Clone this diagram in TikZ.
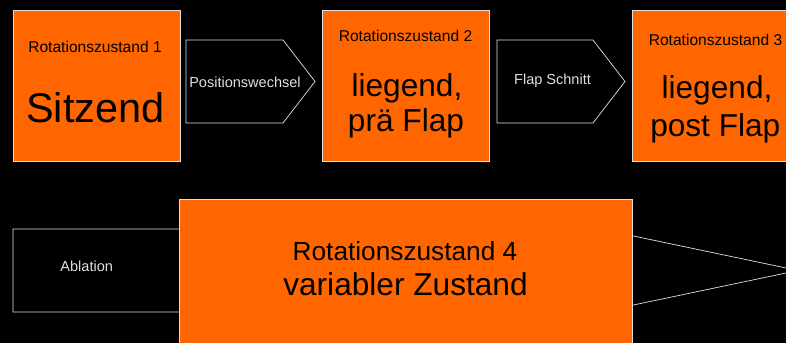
\documentclass[tikz,border=0pt]{standalone}
\usepackage{fontspec}
\setmainfont{Liberation Sans}
\definecolor{zorange}{HTML}{FF6600}
\definecolor{rand}{gray}{0.88}

\begin{document}
\begin{tikzpicture}[x=0.03cm, y=-0.03cm,
    zustand/.style={rectangle, draw=rand, fill=zorange, line width=0.6pt, inner sep=0pt,
      minimum width=5.01cm, minimum height=4.53cm},
    wechsel/.style={draw=rand, fill=black, line width=0.6pt, line join=miter},
    titel/.style={anchor=base, inner sep=0pt, font=\fontsize{13.3}{16}\selectfont},
    gross/.style={anchor=base, inner sep=0pt, font=\fontsize{27}{32}\selectfont},
    klein/.style={anchor=base, inner sep=0pt, text=rand, font=\fontsize{12.4}{15}\selectfont}]
  \fill[black] (0,0) rectangle (786,343);
  \useasboundingbox (0,0) rectangle (786,343);

  % obere Reihe: Zustaende und Wechsel
  \node[zustand] (z1) at (96.5,85.5) {};
  \draw[wechsel] (186,40) -- (283,40) -- (315,81.5) -- (283,123) -- (186,123) -- cycle;
  \node[zustand] (z2) at (405.5,85.5) {};
  \draw[wechsel] (497,40) -- (593,40) -- (625,81.5) -- (593,123) -- (497,123) -- cycle;
  \node[zustand] (z3) at (715.5,85.5) {};

  \node[titel] (t1) at (95,53) {Rotationszustand 1};
  \node[anchor=base, inner sep=0pt, font=\fontsize{35.4}{40}\selectfont] (s1) at (95.5,123) {Sitzend};
  \node[klein] (k1) at (245,87.3) {Positionswechsel};
  \node[titel] (t2) at (405.5,42) {Rotationszustand 2};
  \node[gross] (l2a) at (407,96.7) {liegend,};
  \node[gross] (l2b) at (406,131.7) {prä Flap};
  \node[klein] (k2) at (552.5,85) {Flap Schnitt};
  \node[titel] (t3) at (715.5,46) {Rotationszustand 3};
  \node[gross] (l3a) at (717,99) {liegend,};
  \node[gross] (l3b) at (715.3,136.7) {post Flap};

  % untere Reihe
  \draw[wechsel] (13,229) -- (600,229) -- (798,270.5) -- (600,312) -- (13,312) -- cycle;
  \node[klein] (k3) at (86.7,271) {Ablation};
  \node[zustand, minimum width=13.59cm] (z4) at (405.5,274.5) {};
  \node[anchor=base, inner sep=0pt, font=\fontsize{22.4}{26}\selectfont] (t4) at (405,260) {Rotationszustand 4};
  \node[gross] (v4) at (405.5,295.7) {variabler Zustand};
\end{tikzpicture}
\end{document}
